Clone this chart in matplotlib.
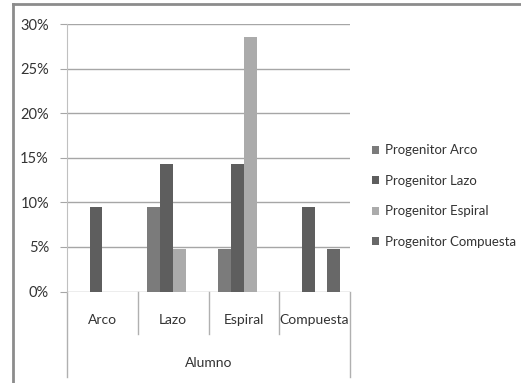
import matplotlib.pyplot as plt
from matplotlib.lines import Line2D
import numpy as np

categories = ["Arco", "Lazo", "Espiral", "Compuesta"]
series_names = ["Progenitor Arco", "Progenitor Lazo", "Progenitor Espiral", "Progenitor Compuesta"]
prog_arco = [0, 9.52, 4.76, 0]
prog_lazo = [9.52, 14.29, 14.29, 9.52]
prog_espiral = [0, 4.76, 28.57, 0]
prog_compuesta = [0, 0, 0, 4.76]
y_ticks = [0, 5, 10, 15, 20, 25, 30]
axis_title = "Alumno"

colors = ["#7b7b7b", "#5e5e5e", "#ababab", "#686868"]
grid_col = "#a6a6a6"

plt.rcParams["font.family"] = ["Lato", "DejaVu Sans"]

W, H = 521, 383
fig = plt.figure(figsize=(W / 100, H / 100), dpi=100)

# plot area in pixels
x0, x1 = 67, 350
y_top, y_zero = 24, 291.5
ax = fig.add_axes([x0 / W, (H - y_zero) / H, (x1 - x0) / W, (y_zero - y_top) / H])

values = [prog_arco, prog_lazo, prog_espiral, prog_compuesta]
n = len(values)
bw = 1 / (n + 1.5)
xs = np.arange(len(categories))
for i, (vals, name) in enumerate(zip(values, series_names)):
    ax.bar(xs - n * bw / 2 + (i + 0.5) * bw, vals, width=bw, color=colors[i],
           label=name, zorder=3)

ax.set_xlim(-0.5, len(categories) - 0.5)
ax.set_ylim(0, 30)
ax.set_yticks(y_ticks)
ax.set_yticklabels([f"{t}%" for t in y_ticks], fontsize=10.5, color="#333333")
ax.yaxis.grid(True, color=grid_col, lw=1.0, zorder=0)
ax.tick_params(axis="y", length=5, color=grid_col, pad=8)
ax.set_xticks([])
for s in ["top", "right", "bottom"]:
    ax.spines[s].set_visible(False)
ax.spines["left"].set_color("#c0c0c0")

# category axis: separators, labels and title below the plot
trans = ax.get_xaxis_transform()
span = y_zero - y_top
sep_len = (334 - y_zero) / span
out_len = (377 - y_zero) / span
for k in range(len(categories) + 1):
    xk = k - 0.5
    depth = out_len if k in (0, len(categories)) else sep_len
    ax.add_line(Line2D([xk, xk], [0, -depth], transform=trans, color="#b0b0b0",
                       lw=1.0, clip_on=False))
for k, c in enumerate(categories):
    ax.text(k, -(320 - y_zero) / span, c, transform=trans,
            ha="center", va="center", fontsize=10, color="#333333")
ax.text((len(categories) - 1) / 2, -(363 - y_zero) / span, axis_title,
        transform=trans, ha="center", va="center", fontsize=10, color="#333333")

# legend
leg = fig.legend(loc="center left", bbox_to_anchor=(372 / W, (H - 196) / H),
                 frameon=False, fontsize=9.5, borderpad=0, borderaxespad=0,
                 handlelength=0.55, handleheight=0.55, handletextpad=0.4,
                 labelspacing=1.4, labelcolor="#333333")

# outer chart frame
fig.add_artist(Line2D([13 / W, 1], [1 - 4 / H, 1 - 4 / H], color="#8c8c8c", lw=2))
fig.add_artist(Line2D([13 / W, 13 / W], [0, 1 - 4 / H], color="#8c8c8c", lw=2))

fig.savefig("out.png", dpi=100)
